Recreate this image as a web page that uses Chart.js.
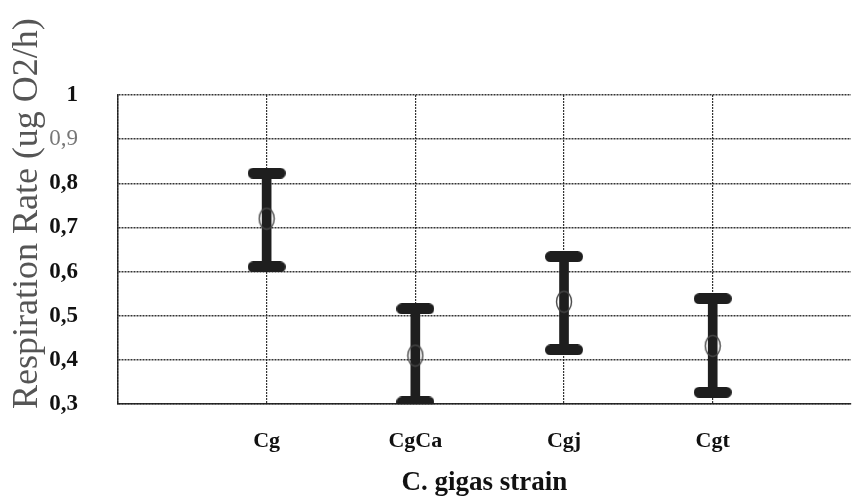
<!DOCTYPE html>
<html>
<head>
<meta charset="utf-8">
<script src="https://cdn.jsdelivr.net/npm/chart.js@4.4.1/dist/chart.umd.min.js"></script>
<style>
  html, body { margin: 0; padding: 0; background: #fff; overflow: hidden; }
  #wrap { width: 856px; height: 501px; position: relative; overflow: hidden; }
  canvas { display: block; }
</style>
</head>
<body>
<div id="wrap"><canvas id="myChart"></canvas></div>
<script>
// values
var categories = ['Cg', 'CgCa', 'Cgj', 'Cgt'];
var means = [0.72, 0.41, 0.532, 0.432];
var upper = [0.823, 0.516, 0.634, 0.539];
var lower = [0.611, 0.305, 0.423, 0.327];
var yTickLabels = ['0,3', '0,4', '0,5', '0,6', '0,7', '0,8', '0,9', '1'];

function capImage() {
    var c = document.createElement('canvas');
    c.width = 38; c.height = 11;
    var g = c.getContext('2d');
    g.fillStyle = '#1e1e1e';
    g.beginPath();
    g.roundRect(0, 0, 38, 11, 5.5);
    g.fill();
    return c;
}

function meanImage() {
    var c = document.createElement('canvas');
    c.width = 18; c.height = 24;
    var g = c.getContext('2d');
    g.strokeStyle = '#444';
    g.lineWidth = 1.4;
    g.beginPath();
    g.ellipse(9, 12, 7.5, 10.5, 0, 0, Math.PI * 2);
    g.stroke();
    return c;
}

var cap = capImage();
var meanMark = meanImage();

var gridColor = 'rgba(30,30,30,0.9)';
var noTick = 'rgba(0,0,0,0)';

function pts(values) {
    return categories.map(function (c, i) { return { x: i, y: values[i] }; });
}

new Chart(document.getElementById('myChart').getContext('2d'), {
    type: 'bar',
    data: {
        datasets: [
            {
                label: 'range',
                data: categories.map(function (c, i) { return { x: i, y: [lower[i], upper[i]] }; }),
                backgroundColor: '#1e1e1e',
                barThickness: 9,
                order: 3
            },
            { type: 'line', label: 'upper', data: pts(upper), showLine: false, pointStyle: cap, order: 2 },
            { type: 'line', label: 'lower', data: pts(lower), showLine: false, pointStyle: cap, order: 2 },
            { type: 'line', label: 'mean', data: pts(means), showLine: false, pointStyle: meanMark, order: 1 }
        ]
    },
    options: {
        responsive: true,
        maintainAspectRatio: false,
        animation: false,
        layout: { padding: { top: 95, left: 6, right: 0, bottom: 2 } },
        plugins: {
            legend: { display: false },
            tooltip: { enabled: false }
        },
        scales: {
            x: {
                type: 'linear',
                min: -1,
                max: 3.93,
                offset: false,
                grid: {
                    offset: false,
                    color: function (c) { return Number.isInteger(c.tick.value) ? gridColor : 'rgba(0,0,0,0)'; },
                    lineWidth: 1.2,
                    drawTicks: true,
                    tickLength: 24,
                    tickColor: noTick
                },
                border: { display: true, color: gridColor, width: 1.5, dash: [2, 1] },
                ticks: {
                    stepSize: 1,
                    padding: 0,
                    autoSkip: false,
                    maxRotation: 0,
                    callback: function (v) { return categories[v] || ''; },
                    color: '#111',
                    font: { family: 'Liberation Serif', size: 22, weight: 'bold' }
                },
                title: {
                    display: true,
                    text: 'C. gigas strain',
                    color: '#111',
                    padding: { top: 12, bottom: 0 },
                    font: { family: 'Liberation Serif', size: 27, weight: 'bold' }
                }
            },
            y: {
                min: 0.3,
                max: 1,
                grid: {
                    color: gridColor,
                    lineWidth: 1.5,
                    drawTicks: true,
                    tickLength: 40,
                    tickColor: noTick
                },
                border: { display: true, color: gridColor, width: 1.5, dash: [2, 1] },
                ticks: {
                    stepSize: 0.1,
                    padding: 0,
                    callback: function (v, i) { return yTickLabels[i]; },
                    color: function (c) { return c.index === 6 ? '#777' : '#111'; },
                    font: function (c) {
                        return { family: 'Liberation Serif', size: 23, weight: c.index === 6 ? 'normal' : 'bold' };
                    }
                },
                title: {
                    display: true,
                    text: '\u00A0\u00A0\u00A0\u00A0\u00A0\u00A0\u00A0\u00A0Respiration Rate (ug O2/h)',
                    color: '#555',
                    padding: { top: 0, bottom: 0 },
                    font: { family: 'Liberation Serif', size: 36 }
                }
            }
        }
    }
});
</script>
</body>
</html>
